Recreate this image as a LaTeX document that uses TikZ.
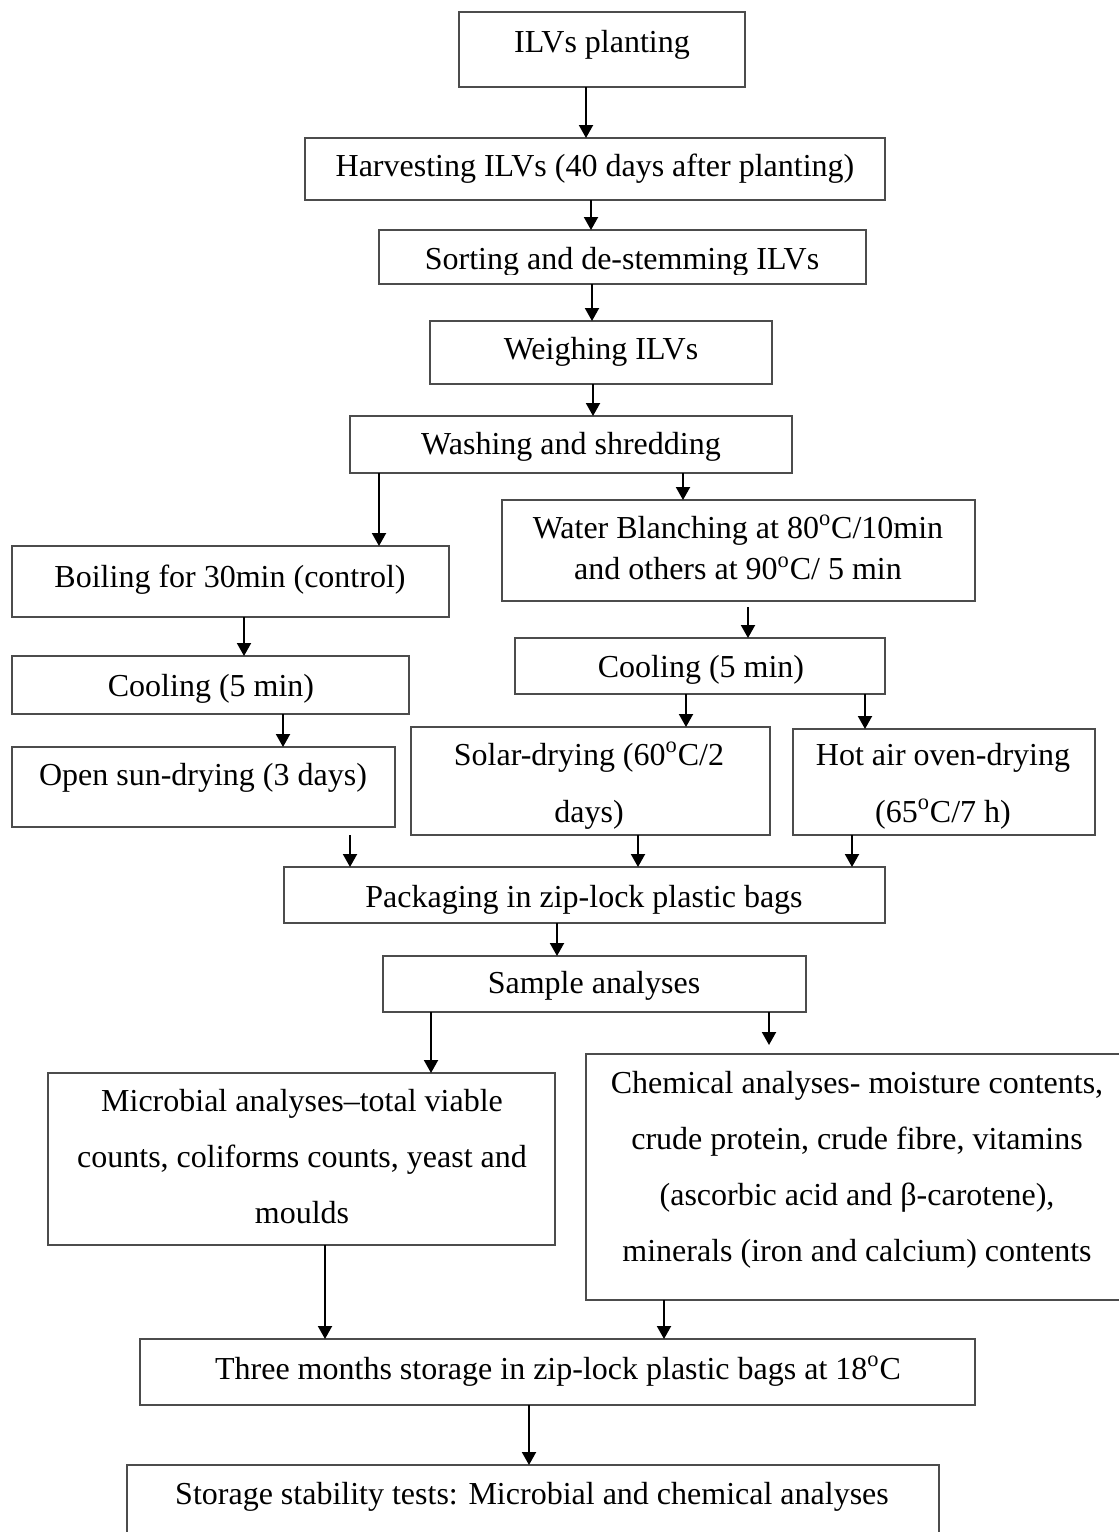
\documentclass[tikz,border=0pt]{standalone}
\usepackage{fontspec}
\setmainfont{Liberation Serif}
\usetikzlibrary{arrows.meta}
\newcommand\bx[5]{\node[boxst, minimum width={(#4-#2)*0.5pt}, minimum height={(#5-#3)*0.5pt}] (#1) at ({(#2+#4)/2},{(#3+#5)/2}) {};}
\newcommand\txtlines[2]{{\def\arraystretch{#1}\begin{tabular}[t]{@{}c@{}}#2\end{tabular}}}
\newcommand\dg{\textsuperscript{o}}
\tikzset{
  boxst/.style={draw=black!70, line width=0.65pt, inner sep=0pt, outer sep=0pt},
  arr/.style={line width=1pt, -{Triangle[length=6.5pt,width=7pt]}},
  txt/.style={anchor=base, inner sep=0pt, font=\fontsize{16pt}{19pt}\selectfont}
}
\begin{document}
\begin{tikzpicture}[x=0.5pt,y=-0.5pt]
\path[use as bounding box, fill=white] (0,0) rectangle (1119,1532);
% boxes
\bx{ilv}{459}{12}{745}{87}
\bx{harv}{305}{138}{885}{200}
\bx{sort}{379}{230}{866}{284}
\bx{weigh}{430}{321}{772}{384}
\bx{wash}{350}{416}{792}{473}
\bx{blanch}{502}{500}{975}{601}
\bx{boil}{12}{546}{449}{617}
\bx{coolL}{12}{656}{409}{714}
\bx{coolR}{515}{638}{885}{694}
\bx{sun}{12}{747}{395}{827}
\bx{solar}{411}{727}{770}{835}
\bx{hot}{793}{729}{1095}{835}
\bx{pack}{284}{867}{885}{923}
\bx{sample}{383}{956}{806}{1012}
\bx{micro}{48}{1073}{555}{1245}
\bx{chem}{586}{1054}{1128}{1300}
\bx{three}{140}{1339}{975}{1405}
\bx{stor}{127}{1465}{939}{1560}
% texts
\node[txt] (ilv-t) at (602,52) {ILVs planting};
\node[txt] (harv-t) at (595,176) {Harvesting ILVs (40 days after planting)};
\begin{scope}
\clip (379,230) rectangle (866,274);
\node[txt] (sort-t) at (622,269) {Sorting and de-stemming ILVs};
\end{scope}
\node[txt] (weigh-t) at (601,359) {Weighing ILVs};
\node[txt] (wash-t) at (571,454) {Washing and shredding};
\node[txt] (blanch-t) at (738,538) {\txtlines{1.105}{Water Blanching at 80\dg C/10min\\ and others at 90\dg C/ 5 min}};
\node[txt] (boil-t) at (230,587) {Boiling for 30min (control)};
\node[txt] (coolL-t) at (211,696) {Cooling (5 min)};
\node[txt] (coolR-t) at (701,677) {Cooling (5 min)};
\node[txt] (sun-t) at (203,785) {Open sun-drying (3 days)};
\node[txt] (solar-t) at (589,765) {\txtlines{1.5}{Solar-drying (60\dg C/2\\ days)}};
\node[txt] (hot-t) at (943,765) {\txtlines{1.5}{Hot air oven-drying\\ (65\dg C/7 h)}};
\node[txt] (pack-t) at (584,907) {Packaging in zip-lock plastic bags};
\node[txt] (sample-t) at (594,993) {Sample analyses};
\node[txt] (micro-t) at (302,1111) {\txtlines{1.474}{Microbial analyses--total viable\\ counts, coliforms counts, yeast and\\ moulds}};
\node[txt] (chem-t) at (857,1093) {\txtlines{1.474}{Chemical analyses- moisture contents,\\ crude protein, crude fibre, vitamins\\ (ascorbic acid and β-carotene),\\ minerals (iron and calcium) contents}};
\node[txt] (three-t) at (558,1379) {Three months storage in zip-lock plastic bags at 18\dg C};
\node[txt] (stor-t) at (532,1504) {Storage stability tests: Microbial and chemical analyses};
% arrows
\draw[arr] (586,0 |- ilv.south) -- (586,0 |- harv.north);
\draw[arr] (591,0 |- harv.south) -- (591,0 |- sort.north);
\draw[arr] (592,0 |- sort.south) -- (592,0 |- weigh.north);
\draw[arr] (593,0 |- weigh.south) -- (593,0 |- wash.north);
\draw[arr] (379,0 |- wash.south) -- (379,0 |- boil.north);
\draw[arr] (683,0 |- wash.south) -- (683,0 |- blanch.north);
\draw[arr] (244,0 |- boil.south) -- (244,0 |- coolL.north);
\draw[arr, shorten <=3pt] (748,0 |- blanch.south) -- (748,0 |- coolR.north);
\draw[arr] (283,0 |- coolL.south) -- (283,0 |- sun.north);
\draw[arr] (686,0 |- coolR.south) -- (686,0 |- solar.north);
\draw[arr] (865,0 |- coolR.south) -- (865,0 |- hot.north);
\draw[arr, shorten <=4pt] (350,0 |- sun.south) -- (350,0 |- pack.north);
\draw[arr] (638,0 |- solar.south) -- (638,0 |- pack.north);
\draw[arr] (852,0 |- hot.south) -- (852,0 |- pack.north);
\draw[arr] (557,0 |- pack.south) -- (557,0 |- sample.north);
\draw[arr] (431,0 |- sample.south) -- (431,0 |- micro.north);
\draw[arr, shorten >=4.5pt] (769,0 |- sample.south) -- (769,0 |- chem.north);
\draw[arr] (325,0 |- micro.south) -- (325,0 |- three.north);
\draw[arr] (664,0 |- chem.south) -- (664,0 |- three.north);
\draw[arr] (529,0 |- three.south) -- (529,0 |- stor.north);
\end{tikzpicture}
\end{document}
